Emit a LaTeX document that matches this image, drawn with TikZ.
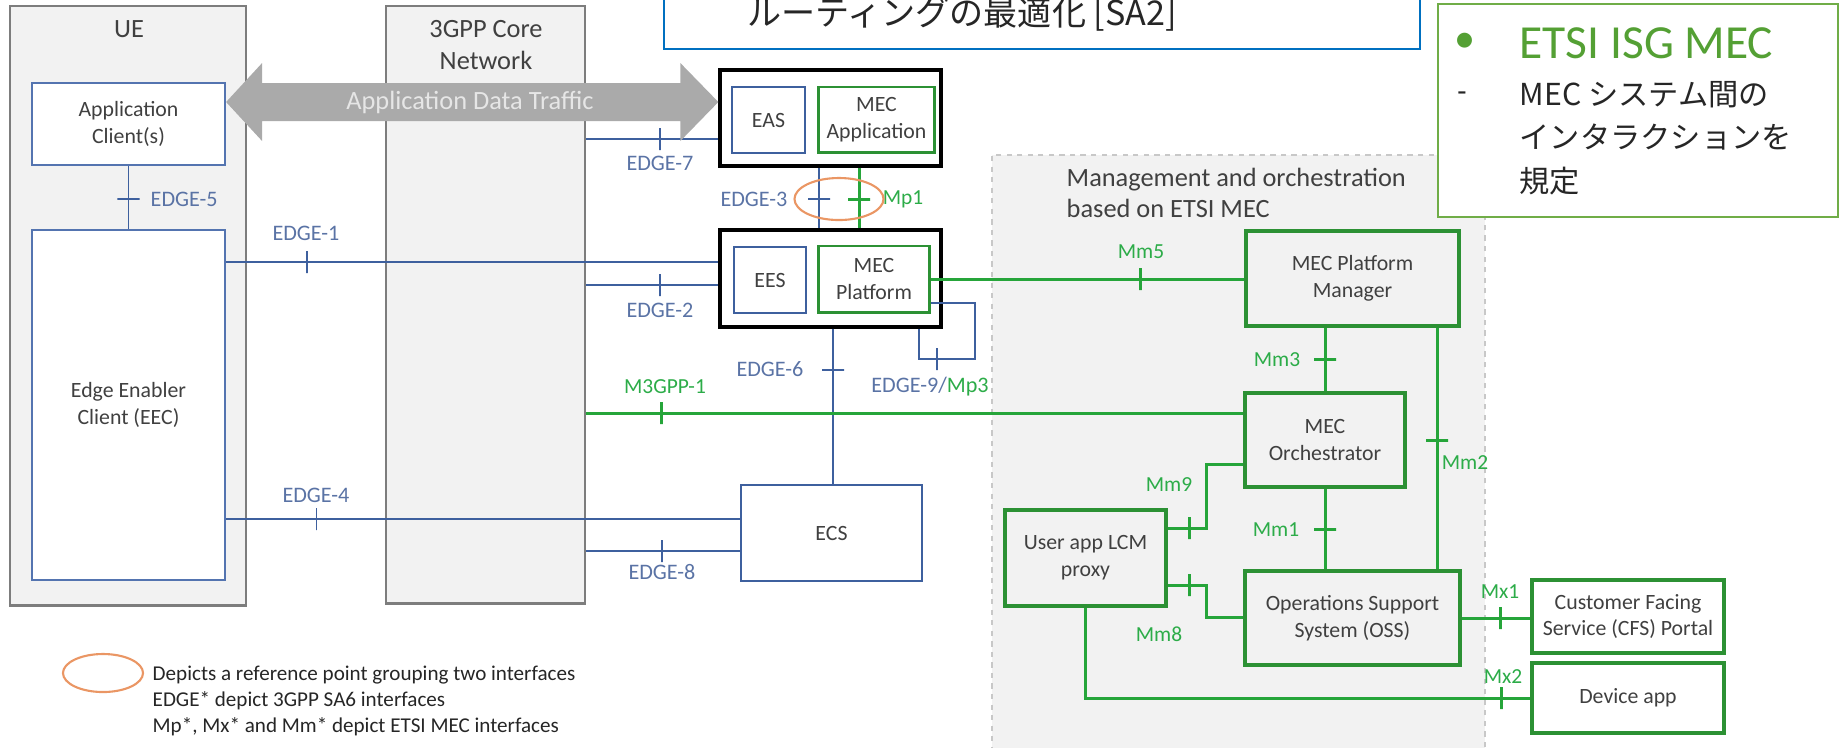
\documentclass[tikz,border=0pt]{standalone}
\usepackage{fontspec}
\setmainfont{Carlito}
\newfontfamily\jpfont{Noto Sans CJK JP}
\usepackage{xcolor}
\usepackage{tikz}
\usetikzlibrary{shapes.geometric, positioning, calc}

\definecolor{panelfill}{RGB}{242,242,242}
\definecolor{panelline}{RGB}{125,125,125}
\definecolor{uiblue}{RGB}{84,116,176}
\definecolor{edgeblue}{RGB}{62,96,158}
\definecolor{edgetext}{RGB}{90,115,165}
\definecolor{mecgreen}{RGB}{38,165,58}
\definecolor{boxgreen}{RGB}{44,145,52}
\definecolor{mectext}{RGB}{44,172,72}
\definecolor{textdark}{RGB}{64,64,64}
\definecolor{ringorange}{RGB}{234,150,100}
\definecolor{trafficgray}{RGB}{170,170,170}
\definecolor{trafficfont}{RGB}{230,230,230}
\definecolor{titleblue}{RGB}{0,112,192}
\definecolor{etsiline}{RGB}{112,173,71}
\definecolor{etsihead}{RGB}{84,160,52}
\definecolor{areadash}{RGB}{200,200,200}

\begin{document}
\begin{tikzpicture}[x=0.01cm, y=-0.01cm,
    panel/.style={draw=panelline, line width=0.75pt, fill=panelfill, inner sep=0pt},
    box/.style={draw, inner sep=0pt, align=center, text=textdark, font=\fontsize{6.2}{7.6}\selectfont},
    uebox/.style={box, draw=uiblue, line width=0.6pt, fill=white},
    edgebox/.style={box, draw=edgeblue, line width=0.8pt, fill=white},
    mecbox/.style={box, draw=boxgreen, line width=0.85pt, fill=white},
    mgmtbox/.style={box, draw=boxgreen, line width=0.9pt},
    groupbox/.style={draw=black, line width=0.9pt, fill=white, inner sep=0pt},
    edgeline/.style={draw=edgeblue, line width=0.55pt},
    mecline/.style={draw=mecgreen, line width=0.85pt},
    tickmark/.style={draw, sloped, inner sep=0pt, minimum width=0pt, minimum height=0.22cm},
    edgelbl/.style={text=edgetext, inner sep=0pt, font=\fontsize{6.3}{7.5}\selectfont},
    meclbl/.style={text=mectext, inner sep=0pt, font=\fontsize{6.1}{7.5}\selectfont},
    heading/.style={text=textdark, inner sep=0pt, align=center, font=\fontsize{7.5}{9}\selectfont}
]
    \useasboundingbox (0,0) rectangle (1839,747);

    % UE and 3GPP core panels
    \node[panel, minimum width=2.36cm, minimum height=5.99cm] (ue) at (128,305.5) {};
    \node[heading] (uelbl) at (129,29) {UE};
    \node[panel, minimum width=1.99cm, minimum height=5.97cm] (core) at (485.5,304.5) {};
    \node[heading] (corelbl) at (486,45) {3GPP Core\\Network};

    % management area
    \node[draw=areadash, dash pattern=on 1.5pt off 1.5pt, fill=panelfill, inner sep=0pt,
          minimum width=4.93cm, minimum height=6.05cm] (mgmt) at (1238.5,457.5) {};
    \node[heading, anchor=west, align=left, font=\fontsize{7.5}{8.8}\selectfont] (mgmtlbl) at (1066,192.5)
        {Management and orchestration\\based on ETSI MEC};

    % UE side
    \node[uebox, minimum width=1.93cm, minimum height=0.82cm] (appc) at (128.5,124) {Application\\Client(s)};
    \node[uebox, minimum width=1.93cm, minimum height=3.50cm] (eec) at (128.5,405) {Edge Enabler\\Client (EEC)};

    % edge hosting side
    \node[groupbox, minimum width=2.21cm, minimum height=0.96cm] (easgrp) at (830.5,118) {};
    \node[edgebox, minimum width=0.73cm, minimum height=0.66cm] (eas) at (768.5,120) {EAS};
    \node[mecbox, minimum width=1.15cm, minimum height=0.65cm] (mecapp) at (876.5,119.5) {MEC\\Application};
    \node[groupbox, minimum width=2.21cm, minimum height=0.97cm] (esgrp) at (830.5,278.5) {};
    \node[edgebox, minimum width=0.72cm, minimum height=0.66cm] (ees) at (770,280) {EES};
    \node[mecbox, minimum width=1.10cm, minimum height=0.66cm] (mecplat) at (874,279) {MEC\\Platform};
    \node[edgebox, minimum width=1.81cm, minimum height=0.96cm] (ecs) at (831.5,533) {ECS};

    % MEC management boxes
    \node[mgmtbox, minimum width=2.13cm, minimum height=0.95cm] (pfm) at (1352.5,278.5) {MEC Platform\\Manager};
    \node[mgmtbox, minimum width=1.60cm, minimum height=0.94cm] (orch) at (1325,440) {MEC\\Orchestrator};
    \node[mgmtbox, minimum width=2.15cm, minimum height=0.94cm] (oss) at (1352.5,618) {Operations Support\\System (OSS)};
    \node[mgmtbox, minimum width=1.61cm, minimum height=0.96cm] (proxy) at (1085.5,558) {User app LCM\\proxy};
    \node[mgmtbox, fill=white, minimum width=1.92cm, minimum height=0.73cm] (cfs) at (1628,616.5) {Customer Facing\\Service (CFS) Portal};
    \node[mgmtbox, fill=white, minimum width=1.92cm, minimum height=0.70cm] (devapp) at (1628,698) {Device app};

    % EDGE interfaces
    \draw[edgeline] (appc.south) -- node[tickmark, pos=0.52] (t-e5) {} (eec.north);
    \node[edgelbl, anchor=west] (l-e5) at (150,199) {EDGE-5};
    \draw[edgeline] (eec.east |- 0,262) -- node[tickmark, pos=0.164] (t-e1) {} (esgrp.west |- 0,262);
    \node[edgelbl] (l-e1) at (306,233) {EDGE-1};
    \draw[edgeline] (core.east |- 0,139) -- node[tickmark, pos=0.556] (t-e7) {} (easgrp.west |- 0,139);
    \node[edgelbl] (l-e7) at (660,163) {EDGE-7};
    \draw[edgeline] (core.east |- 0,285) -- node[tickmark, pos=0.556] (t-e2) {} (esgrp.west |- 0,285);
    \node[edgelbl] (l-e2) at (660,310) {EDGE-2};
    \draw[edgeline] (819,0 |- easgrp.south) -- node[tickmark, pos=0.52] (t-e3) {} (819,0 |- esgrp.north);
    \node[edgelbl] (l-e3) at (754,199) {EDGE-3};
    \draw[edgeline] (833,0 |- esgrp.south) -- node[tickmark, pos=0.266] (t-e6) {} (833,0 |- ecs.north);
    \node[edgelbl] (l-e6) at (770,369) {EDGE-6};
    \draw[edgeline] (mecplat.east |- 0,303) -| (975,359) -| node[tickmark, pos=0.34] (t-e9) {} (esgrp.south -| 919,0);
    \node[edgelbl] (l-e9) at (930,387) {EDGE-9/\textcolor{mectext}{Mp3}};
    \draw[edgeline] (eec.east |- 0,519) -- node[tickmark, pos=0.176] (t-e4) {} (ecs.west |- 0,519);
    \node[edgelbl] (l-e4) at (316,495) {EDGE-4};
    \draw[edgeline] (core.east |- 0,551) -- node[tickmark, pos=0.494] (t-e8) {} (ecs.west |- 0,551);
    \node[edgelbl] (l-e8) at (662,572) {EDGE-8};

    % MEC interfaces
    \draw[mecline] (859,0 |- easgrp.south) -- node[tickmark, pos=0.52] (t-mp1) {} (859,0 |- esgrp.north);
    \node[meclbl] (l-mp1) at (903,199) {Mp1};
    \node[draw=ringorange, line width=0.6pt, ellipse, inner sep=0pt,
          minimum width=0.89cm, minimum height=0.42cm] (ring) at (839,199) {};
    \draw[mecline] (mecplat.east) -- node[tickmark, pos=0.669] (t-mm5) {} (pfm.west |- mecplat.east);
    \node[meclbl] (l-mm5) at (1141,252) {Mm5};
    \draw[mecline] (core.east |- 0,413) -- node[tickmark, pos=0.115] (t-m3gpp) {} (orch.west |- 0,413);
    \node[meclbl] (l-m3gpp) at (665,387) {M3GPP-1};
    \draw[mecline] (orch.north |- pfm.south) -- node[tickmark, pos=0.507] (t-mm3) {} (orch.north);
    \node[meclbl] (l-mm3) at (1277,360) {Mm3};
    \draw[mecline] (1437,0 |- pfm.south) -- node[tickmark, pos=0.465] (t-mm2) {} (1437,0 |- oss.north);
    \node[meclbl] (l-mm2) at (1465,463) {Mm2};
    \draw[mecline] (orch.south) -- node[tickmark, pos=0.51] (t-mm1) {} (orch.south |- oss.north);
    \node[meclbl] (l-mm1) at (1276,530) {Mm1};
    \draw[mecline] (proxy.east |- 0,528) -| node[tickmark, pos=0.29] (t-mm9) {} (1206,464) -- (orch.west |- 0,464);
    \node[meclbl] (l-mm9) at (1169,485) {Mm9};
    \draw[mecline] (proxy.east |- 0,585) -| node[tickmark, pos=0.29] (t-mm8) {} (1206,617) -- (oss.west |- 0,617);
    \node[meclbl] (l-mm8) at (1159,634) {Mm8};
    \draw[mecline] (oss.east |- 0,618) -- node[tickmark, pos=0.56] (t-mx1) {} (cfs.west |- 0,618);
    \node[meclbl] (l-mx1) at (1500,592) {Mx1};
    \draw[mecline] (proxy.south) |- node[tickmark, pos=0.968] (t-mx2) {} (devapp.west);
    \node[meclbl] (l-mx2) at (1503,677) {Mx2};

    % application data traffic
    \fill[trafficgray] (appc.east |- 0,102) -- ++(36,-39) -- ++(0,20) -- ($(easgrp.west |- 0,83)+(-38,0)$)
        -- ++(0,-20) -- (easgrp.west |- 0,102) -- ++(-38,39) -- ++(0,-20)
        -- ($(appc.east |- 0,121)+(36,0)$) -- ++(0,20) -- cycle;
    \node[text=trafficfont, inner sep=0pt, font=\fontsize{7.5}{9}\selectfont] (traffic) at (470,102) {Application Data Traffic};

    % legend
    \node[draw=ringorange, line width=0.6pt, ellipse, inner sep=0pt,
          minimum width=0.80cm, minimum height=0.38cm] (legring) at (103,673) {};
    \node[anchor=west, align=left, inner sep=0pt, text=black!85, font=\fontsize{6}{7.5}\selectfont] (legtext) at (152,701)
        {Depicts a reference point grouping two interfaces\\EDGE* depict 3GPP SA6 interfaces\\Mp*, Mx* and Mm* depict ETSI MEC interfaces};

    % ETSI ISG MEC note
    \node[draw=etsiline, line width=0.6pt, fill=white, inner sep=0pt,
          minimum width=4.0cm, minimum height=2.13cm] (etsi) at (1638,110.5) {};
    \node[text=etsihead, inner sep=0pt, font=\fontsize{12}{16}\selectfont] (etsidot) at (1465,43) {•};
    \node[anchor=west, text=etsihead, inner sep=0pt, font=\fontsize{13.5}{16}\selectfont] (etsihd) at (1519,43) {ETSI ISG MEC};
    \node[text=black!85, inner sep=0pt, font=\fontsize{8.6}{12}\selectfont] (etsidash) at (1462,97) {-};
    \node[anchor=west, align=left, inner sep=0pt, text=black!85, font={\jpfont\fontsize{8.6}{12.4}\selectfont}] (etsibody) at (1519,138)
        {MEC システム間の\\インタラクションを\\規定};

    % SA2 note
    \node[draw=titleblue, line width=0.6pt, fill=white, inner sep=0pt,
          minimum width=7.56cm, minimum height=0.79cm] (sa2) at (1042,9.5) {};
    \node[text=black!85, inner sep=0pt, font={\jpfont\fontsize{9.7}{11}\selectfont}] (sa2txt) at (962,14) {ルーティングの最適化 [SA2]};
\end{tikzpicture}
\end{document}
